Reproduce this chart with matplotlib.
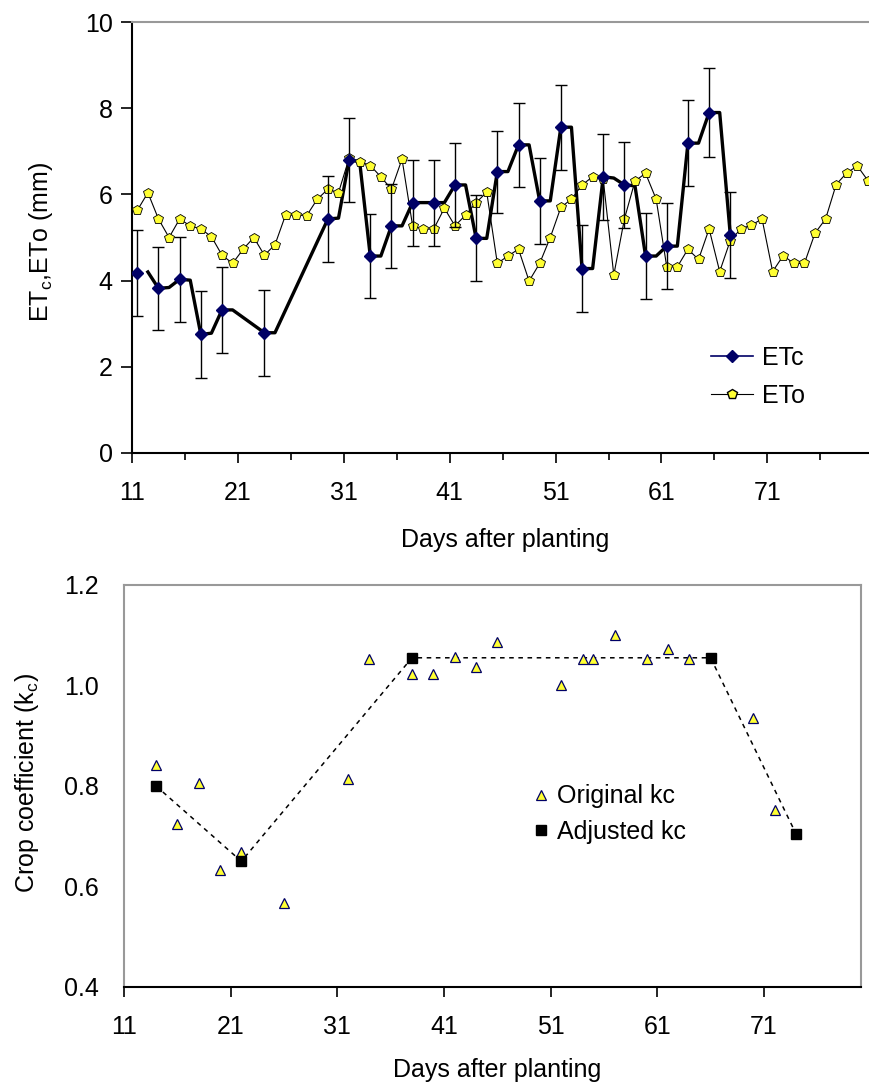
import matplotlib.pyplot as plt
from matplotlib.lines import Line2D

plt.rcParams['font.family'] = ['Liberation Sans', 'DejaVu Sans']

# reference evapotranspiration, one value per day
eto_days = list(range(11, 81))
eto = [5.63, 6.04, 5.43, 5.00, 5.43, 5.27, 5.20, 5.02, 4.59, 4.40,
       4.73, 5.00, 4.59, 4.83, 5.52, 5.52, 5.51, 5.89, 6.12, 6.04,
       6.84, 6.76, 6.67, 6.41, 6.12, 6.82, 5.27, 5.19, 5.20, 5.68,
       5.27, 5.52, 5.81, 6.05, 4.40, 4.57, 4.73, 3.99, 4.40, 5.00,
       5.70, 5.89, 6.22, 6.41, 6.35, 4.13, 5.43, 6.31, 6.49, 5.89,
       4.32, 4.32, 4.73, 4.49, 5.20, 4.21, 4.93, 5.20, 5.29, 5.43,
       4.21, 4.58, 4.40, 4.40, 5.10, 5.43, 6.23, 6.50, 6.66, 6.32]

# measured crop evapotranspiration
etc_days = [11, 13, 15, 17, 19, 23, 29, 31, 33, 35, 37, 39, 41,
            43, 45, 47, 49, 51, 53, 55, 57, 59, 61, 63, 65, 67]
etc = [4.18, 3.82, 4.03, 2.75, 3.32, 2.79, 5.43, 6.80, 4.57, 5.27, 5.81, 5.81, 6.22,
       4.98, 6.53, 7.15, 5.85, 7.56, 4.28, 6.41, 6.22, 4.57, 4.80, 7.19, 7.90, 5.06]
etc_err = [1.0, 0.97, 0.98, 1.0, 1.0, 1.0, 1.0, 0.98, 0.97, 0.98, 1.0, 1.0, 0.98,
           1.0, 0.95, 0.98, 1.0, 0.99, 1.0, 1.0, 1.0, 1.0, 1.0, 1.0, 1.03, 1.0]

# thick ETc trace
etc_line_days = [12, 13, 14, 15, 16, 17, 18, 19, 20, 23, 24, 29, 30, 31, 32, 33, 34,
                 35, 36, 37, 38, 39, 40, 41, 42, 43, 44, 45, 46, 47, 48, 49, 50,
                 51, 52, 53, 54, 55, 56, 57, 58, 59, 60, 61, 62, 63, 64, 65, 66, 67]
etc_line = [4.20, 3.82, 3.84, 4.03, 4.01, 2.75, 2.78, 3.32, 3.32, 2.79, 2.79, 5.43, 5.45,
            6.80, 6.76, 4.57, 4.57, 5.27, 5.27, 5.81, 5.81, 5.81, 5.81, 6.22, 6.22,
            4.98, 4.98, 6.53, 6.53, 7.15, 7.15, 5.85, 5.85, 7.56, 7.56, 4.28, 4.28,
            6.41, 6.38, 6.22, 6.20, 4.57, 4.57, 4.80, 4.80, 7.19, 7.19, 7.90, 7.90, 5.06]

# crop coefficient
kc_days = [14, 16, 18, 20, 22, 26, 32, 34, 38, 40, 42, 44, 46,
           52, 54, 55, 57, 60, 62, 64, 70, 72]
kc = [0.841, 0.725, 0.805, 0.633, 0.669, 0.568, 0.813, 1.053, 1.022, 1.022, 1.057,
      1.037, 1.086, 1.000, 1.053, 1.053, 1.100, 1.053, 1.073, 1.053, 0.936, 0.753]
kc_adj_days = [14, 22, 38, 66, 74]
kc_adj = [0.80, 0.65, 1.055, 1.055, 0.705]

FS = 18
NAVY = '#000066'
YELLOW = '#ffff33'

fig = plt.figure(figsize=(8.69, 10.86), dpi=100)

# --- top: ETc / ETo ---
ax = fig.add_axes([0.1519, 0.5829, 0.8481, 0.3968])

ax.plot(etc_line_days, etc_line, color='black', lw=2.4, zorder=2)
ax.plot(eto_days, eto, color='black', lw=0.8, marker='p', ms=7.5,
        mfc=YELLOW, mec='black', mew=0.6, zorder=3)
ax.errorbar(etc_days, etc, yerr=etc_err, fmt='none', ecolor='black',
            elinewidth=1.0, capsize=4, capthick=1.0, zorder=4)
ax.plot(etc_days, etc, ls='none', marker='D', ms=6, mfc=NAVY, mec=NAVY, zorder=5)

ax.set_xlim(10.5, 80.1)
ax.set_ylim(0, 10)
ax.set_xticks([10.5, 20.5, 30.5, 40.5, 50.5, 60.5, 70.5])
ax.set_xticklabels(['11', '21', '31', '41', '51', '61', '71'])
ax.set_xticks([15.5, 25.5, 35.5, 45.5, 55.5, 65.5, 75.5], minor=True)
ax.set_yticks([0, 2, 4, 6, 8, 10])
ax.tick_params(axis='both', which='both', direction='out', labelsize=FS,
               width=1.2, color='black')
ax.tick_params(axis='x', which='major', length=7, pad=13)
ax.tick_params(axis='x', which='minor', length=5)
ax.tick_params(axis='y', length=8, pad=6)

for side in ('left', 'bottom'):
    ax.spines[side].set_linewidth(1.5)
ax.spines['top'].set_color('#999999')
ax.spines['top'].set_linewidth(1.5)
ax.spines['right'].set_visible(False)

ax.set_xlabel('Days after planting', fontsize=FS, va='center')
ax.set_ylabel(r'ET$_\mathregular{c}$,ETo (mm)', fontsize=FS, va='center')
ax.xaxis.set_label_coords(0.506, -0.202)
ax.yaxis.set_label_coords(-0.1235, 0.49)

h_etc = Line2D([], [], color=NAVY, lw=1.2, marker='D', ms=6, mfc=NAVY, mec=NAVY)
h_eto = Line2D([], [], color='black', lw=0.8, marker='p', ms=7.5, mfc=YELLOW, mec='black')
ax.legend([h_etc, h_eto], ['ETc', 'ETo'], loc='upper left', bbox_to_anchor=(0.755, 0.3),
          frameon=False, fontsize=FS, handlelength=1.7, labelspacing=0.55,
          handletextpad=0.35)

# --- bottom: crop coefficient ---
bx = fig.add_axes([0.1427, 0.0912, 0.8481, 0.3702])

bx.plot(kc_adj_days, kc_adj, color='black', lw=1.1, ls=(0, (3, 3)), zorder=2)
bx.plot(kc_days, kc, ls='none', marker='^', ms=7, mfc=YELLOW, mec='#000066',
        mew=0.9, zorder=3, label='Original kc')
bx.plot(kc_adj_days, kc_adj, ls='none', marker='s', ms=6.5, mfc='black', mec='black',
        zorder=4, label='Adjusted kc')

bx.set_xlim(11, 80.1)
bx.set_ylim(0.4, 1.2)
bx.set_xticks([11, 21, 31, 41, 51, 61, 71])
bx.set_yticks([0.4, 0.6, 0.8, 1.0, 1.2])
bx.set_yticklabels(['0.4', '0.6', '0.8', '1.0', '1.2'])
bx.tick_params(axis='both', direction='out', labelsize=FS, width=1.2)
bx.tick_params(axis='x', length=7, pad=13)
bx.tick_params(axis='y', length=0, pad=18)

for side in ('left', 'right', 'top'):
    bx.spines[side].set_color('#999999')
    bx.spines[side].set_linewidth(1.5)
bx.spines['bottom'].set_linewidth(1.5)

bx.set_xlabel('Days after planting', fontsize=FS, va='center')
bx.set_ylabel(r'Crop coefficient (k$_\mathregular{c}$)', fontsize=FS, va='center')
bx.xaxis.set_label_coords(0.506, -0.206)
bx.yaxis.set_label_coords(-0.1316, 0.507)

bx.legend(loc='upper left', bbox_to_anchor=(0.525, 0.56), frameon=False, fontsize=FS,
          handlelength=0.6, labelspacing=0.45, handletextpad=0.35)

fig.savefig('out.png', dpi=100)
